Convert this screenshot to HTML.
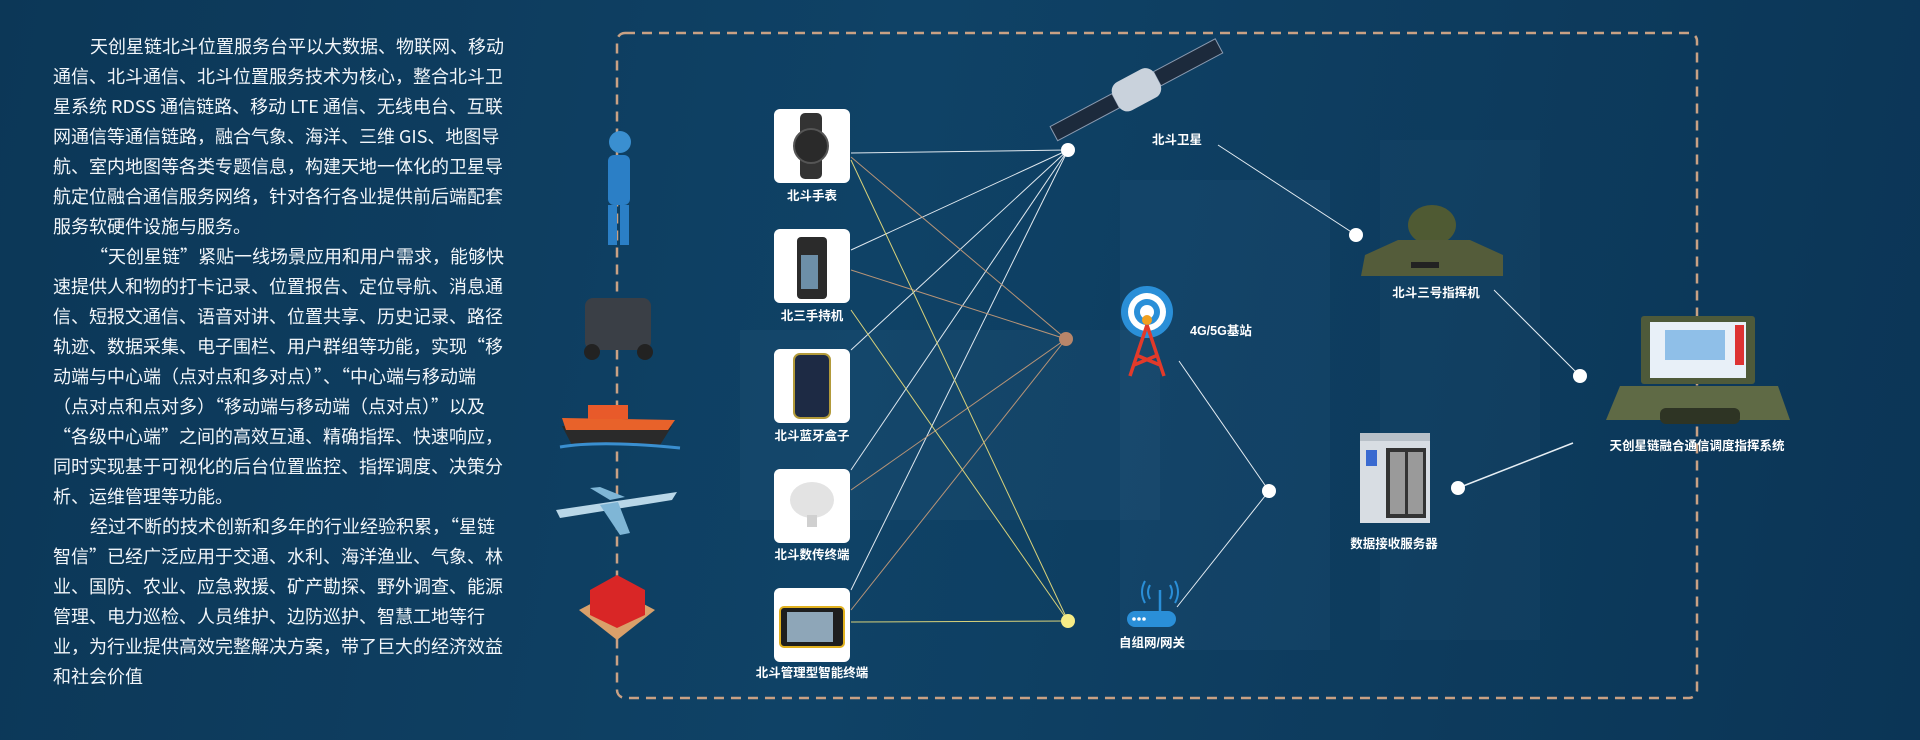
<!DOCTYPE html>
<html><head><meta charset="utf-8"><style>
html,body{margin:0;padding:0}
body{width:1920px;height:740px;overflow:hidden;position:relative;
background:linear-gradient(100deg,#0c3757 0%,#0f4266 45%,#0d3b5d 75%,#0b3556 100%);
font-family:"Liberation Sans","Noto Sans CJK SC",sans-serif;color:#fff}
.txt{position:absolute;left:53px;top:31px;font-family:"Noto Sans CJK SC","Liberation Sans",sans-serif;font-size:18px;line-height:30px;white-space:nowrap;color:#f2f6fa}
.txt div.i{padding-left:37px}
.bg{position:absolute;background:rgba(120,170,210,0.05)}
svg{position:absolute;left:0;top:0}
.lb{font-family:"Liberation Sans","Noto Sans CJK SC",sans-serif;font-size:12.5px;font-weight:bold;fill:#fff}
</style></head><body>
<div class="bg" style="left:740px;top:330px;width:420px;height:190px"></div>
<div class="bg" style="left:1120px;top:180px;width:210px;height:470px"></div>
<div class="bg" style="left:1380px;top:140px;width:160px;height:500px;background:rgba(120,170,210,0.04)"></div>
<div class="txt">
<div class="i">天创星链北斗位置服务台平以大数据、物联网、移动</div>
<div>通信、北斗通信、北斗位置服务技术为核心，整合北斗卫</div>
<div>星系统 RDSS 通信链路、移动 LTE 通信、无线电台、互联</div>
<div>网通信等通信链路，融合气象、海洋、三维 GIS、地图导</div>
<div>航、室内地图等各类专题信息，构建天地一体化的卫星导</div>
<div>航定位融合通信服务网络，针对各行各业提供前后端配套</div>
<div>服务软硬件设施与服务。</div>
<div class="i">“天创星链”紧贴一线场景应用和用户需求，能够快</div>
<div>速提供人和物的打卡记录、位置报告、定位导航、消息通</div>
<div>信、短报文通信、语音对讲、位置共享、历史记录、路径</div>
<div>轨迹、数据采集、电子围栏、用户群组等功能，实现“移</div>
<div>动端与中心端（点对点和多对点）”、“中心端与移动端</div>
<div>（点对点和点对多）“移动端与移动端（点对点）”以及</div>
<div>“各级中心端”之间的高效互通、精确指挥、快速响应，</div>
<div>同时实现基于可视化的后台位置监控、指挥调度、决策分</div>
<div>析、运维管理等功能。</div>
<div class="i">经过不断的技术创新和多年的行业经验积累，“星链</div>
<div>智信”已经广泛应用于交通、水利、海洋渔业、气象、林</div>
<div>业、国防、农业、应急救援、矿产勘探、野外调查、能源</div>
<div>管理、电力巡检、人员维护、边防巡护、智慧工地等行</div>
<div>业，为行业提供高效完整解决方案，带了巨大的经济效益</div>
<div>和社会价值</div>
</div>
<svg width="1920" height="740" viewBox="0 0 1920 740">
<rect x="617" y="33" width="1080" height="665" rx="8" fill="none" stroke="#c9a184" stroke-width="2.5" stroke-dasharray="10,7"/>
<g stroke-width="1" fill="none">
<g stroke="#dfe8ef">
<line x1="851" y1="153" x2="1068" y2="150"/>
<line x1="851" y1="250" x2="1068" y2="150"/>
<line x1="851" y1="350" x2="1068" y2="150"/>
<line x1="851" y1="470" x2="1068" y2="150"/>
<line x1="851" y1="590" x2="1068" y2="150"/>
</g>
<g stroke="#b89477">
<line x1="851" y1="157" x2="1066" y2="339"/>
<line x1="851" y1="270" x2="1066" y2="339"/>
<line x1="851" y1="490" x2="1066" y2="339"/>
<line x1="851" y1="610" x2="1066" y2="339"/>
</g>
<g stroke="#d8d27a">
<line x1="851" y1="160" x2="1068" y2="621"/>
<line x1="851" y1="310" x2="1068" y2="621"/>
<line x1="851" y1="622" x2="1068" y2="621"/>
</g>
<g stroke="#e6eef4">
<line x1="1218" y1="145" x2="1356" y2="235"/>
<line x1="1494" y1="290" x2="1580" y2="376"/>
<line x1="1179" y1="361" x2="1269" y2="491"/>
<line x1="1177" y1="607" x2="1269" y2="491"/>
<line x1="1458" y1="488" x2="1573" y2="443" stroke-width="1.5"/>
</g>
</g>
<circle cx="1068" cy="150" r="7" fill="#fff"/>
<circle cx="1066" cy="339" r="7" fill="#b8866a"/>
<circle cx="1068" cy="621" r="7" fill="#f6ec86"/>
<circle cx="1356" cy="235" r="7" fill="#fff"/>
<circle cx="1580" cy="376" r="7" fill="#fff"/>
<circle cx="1269" cy="491" r="7" fill="#fff"/>
<circle cx="1458" cy="488" r="7" fill="#fff"/>
<g fill="#fff">
<rect x="774" y="109" width="76" height="74" rx="6"/>
<rect x="774" y="229" width="76" height="74" rx="6"/>
<rect x="774" y="349" width="76" height="74" rx="6"/>
<rect x="774" y="469" width="76" height="74" rx="6"/>
<rect x="774" y="588" width="76" height="74" rx="6"/>
</g>
<rect x="800" y="113" width="22" height="66" rx="5" fill="#333"/>
<circle cx="811" cy="146" r="17" fill="#2a2a2a" stroke="#555" stroke-width="2"/>
<rect x="797" y="237" width="30" height="62" rx="4" fill="#2b2b2b"/>
<rect x="801" y="255" width="17" height="34" fill="#6d8fa8"/>
<rect x="794" y="354" width="36" height="64" rx="6" fill="#1d2a44" stroke="#b29a3a" stroke-width="2"/>
<ellipse cx="812" cy="500" rx="22" ry="18" fill="#e3e3e3"/>
<rect x="807" y="515" width="10" height="12" fill="#d0d0d0"/>
<rect x="780" y="607" width="64" height="40" rx="4" fill="#1e1e1e" stroke="#e1b11f" stroke-width="2"/>
<rect x="787" y="612" width="46" height="30" fill="#8ea6b8"/>
<text class="lb" x="812" y="200" text-anchor="middle">北斗手表</text>
<text class="lb" x="812" y="320" text-anchor="middle">北三手持机</text>
<text class="lb" x="812" y="440" text-anchor="middle">北斗蓝牙盒子</text>
<text class="lb" x="812" y="559" text-anchor="middle">北斗数传终端</text>
<text class="lb" x="812" y="677" text-anchor="middle">北斗管理型智能终端</text>
<g>
<circle cx="620" cy="142" r="11" fill="#3a8fd0"/>
<rect x="608" y="155" width="22" height="50" rx="6" fill="#2b7fc6"/>
<rect x="608" y="205" width="9" height="40" fill="#2b7fc6"/><rect x="620" y="205" width="9" height="40" fill="#2b7fc6"/>
<rect x="585" y="298" width="66" height="52" rx="8" fill="#3a3f46"/>
<circle cx="592" cy="352" r="8" fill="#222"/><circle cx="645" cy="352" r="8" fill="#222"/>
<path d="M562 426 L672 426 L660 445 L572 445 Z" fill="#2a2a2a"/>
<path d="M562 418 L675 420 L668 430 L566 430 Z" fill="#e8622a"/>
<rect x="588" y="405" width="40" height="14" fill="#e85a2a"/>
<path d="M560 447 Q600 440 680 448" stroke="#3a8fd0" stroke-width="3" fill="none"/>
<path d="M556 510 L677 492 L672 500 L560 518 Z" fill="#b9d7e8"/>
<path d="M600 505 L620 535 L630 533 L618 502 Z" fill="#7fb6d6"/>
<path d="M610 500 L590 488 L600 487 L625 497 Z" fill="#7fb6d6"/>
<path d="M579 610 L617 590 L655 610 L617 640 Z" fill="#d9a06a"/>
<path d="M590 590 L617 575 L645 590 L645 615 L617 628 L590 615 Z" fill="#d92626"/>
</g>
<g transform="rotate(-28 1136 90)">
<rect x="1043" y="82" width="70" height="16" fill="#1c2a3c" stroke="#8a9ab0" stroke-width="1"/>
<rect x="1160" y="82" width="70" height="16" fill="#1c2a3c" stroke="#8a9ab0" stroke-width="1"/>
<rect x="1113" y="74" width="47" height="32" rx="10" fill="#c9d2dc"/>
</g>
<text class="lb" x="1177" y="144" text-anchor="middle">北斗卫星</text>
<ellipse cx="1432" cy="225" rx="24" ry="20" fill="#4f5a33"/>
<path d="M1365 255 L1398 240 L1470 240 L1503 255 L1503 276 L1361 276 Z" fill="#545c3a"/>
<rect x="1411" y="262" width="28" height="6" fill="#222"/>
<text class="lb" x="1436" y="297" text-anchor="middle">北斗三号指挥机</text>
<circle cx="1147" cy="312" r="26" fill="#2a8fd8"/>
<circle cx="1147" cy="312" r="19" fill="#fff"/>
<circle cx="1147" cy="312" r="13" fill="#2a8fd8"/>
<circle cx="1147" cy="312" r="7" fill="#fff"/>
<circle cx="1147" cy="320" r="5" fill="#f0a020"/>
<path d="M1147 325 L1130 376 M1147 325 L1164 376 M1136 355 L1160 365 M1158 355 L1134 365" stroke="#e23a2a" stroke-width="3.5" fill="none"/>
<text class="lb" x="1190" y="335">4G/5G基站</text>
<rect x="1641" y="316" width="114" height="68" rx="3" fill="#4e5a3a"/>
<rect x="1650" y="322" width="96" height="56" fill="#e8f0f8"/>
<rect x="1665" y="330" width="60" height="30" fill="#8fbfe8"/>
<rect x="1735" y="325" width="9" height="40" fill="#d33"/>
<path d="M1620 386 L1778 386 L1790 420 L1606 420 Z" fill="#5f6a45"/>
<rect x="1660" y="408" width="80" height="16" rx="6" fill="#2e3424"/>
<text class="lb" x="1697" y="450" text-anchor="middle">天创星链融合通信调度指挥系统</text>
<rect x="1360" y="433" width="70" height="90" fill="#d8dde3"/>
<rect x="1360" y="433" width="70" height="8" fill="#b8c0c8"/>
<rect x="1386" y="448" width="40" height="70" fill="#333"/>
<rect x="1390" y="452" width="15" height="62" fill="#9a9a9a"/>
<rect x="1408" y="452" width="15" height="62" fill="#9a9a9a"/>
<rect x="1366" y="450" width="11" height="16" fill="#3a6ad0"/>
<text class="lb" x="1394" y="548" text-anchor="middle">数据接收服务器</text>
<rect x="1127" y="611" width="49" height="16" rx="8" fill="#2a8fd8"/>
<line x1="1160" y1="590" x2="1160" y2="611" stroke="#2a8fd8" stroke-width="2.5"/>
<path d="M1150 585 Q1146 592 1150 599 M1170 585 Q1174 592 1170 599 M1145 581 Q1139 592 1145 603 M1175 581 Q1181 592 1175 603" stroke="#2a8fd8" stroke-width="2" fill="none"/>
<circle cx="1134" cy="619" r="1.8" fill="#fff"/><circle cx="1139" cy="619" r="1.8" fill="#fff"/><circle cx="1144" cy="619" r="1.8" fill="#fff"/>
<text class="lb" x="1152" y="647" text-anchor="middle">自组网/网关</text>
</svg>
</body></html>
